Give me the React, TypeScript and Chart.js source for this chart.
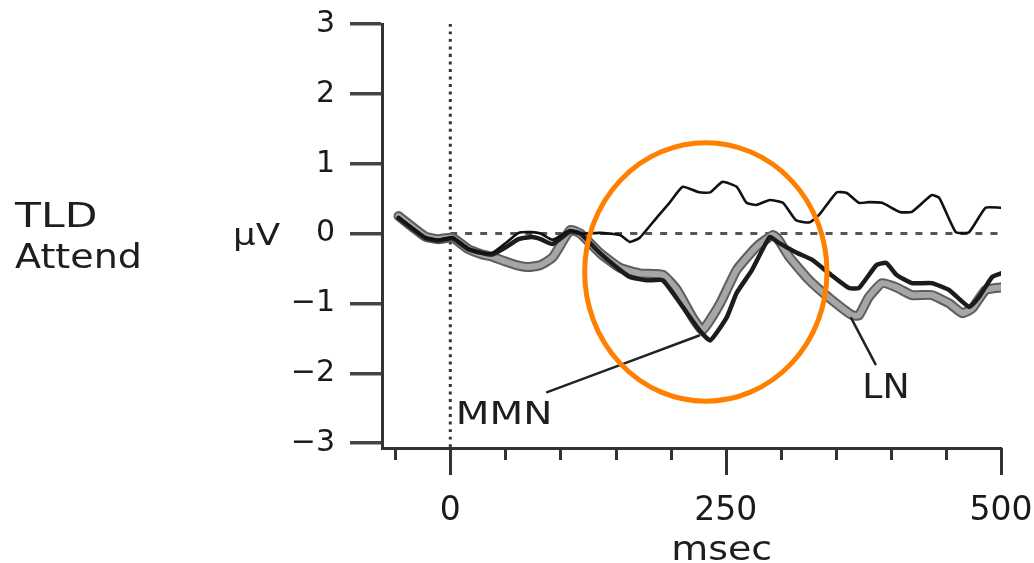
import React, { useEffect, useRef } from "react";
import { Chart, registerables } from "chart.js";

Chart.register(...registerables);

// ---- axis ticks ----
const yTicks = [-3, -2, -1, 0, 1, 2, 3];
const xTicks = [-50, 0, 50, 100, 150, 200, 250, 300, 350, 400, 450, 500];
const xMajor = [0, 250, 500];

// ---- series (msec, µV) ----
const thinX = [-47, -23, -11, 2, 16, 29, 38, 50, 62, 74, 82, 93, 109, 118, 136, 154, 163, 172, 188, 199, 211, 226, 236, 247, 260, 269, 278, 290, 302, 314, 326, 335, 351, 360, 371, 380, 392, 408, 419, 437, 444, 459, 471, 486, 500];
const thinY = [0.24, -0.05, -0.09, -0.05, -0.21, -0.27, -0.28, -0.14, 0.01, 0.02, 0.0, -0.09, 0.05, 0.0, 0.01, -0.02, -0.12, -0.06, 0.24, 0.44, 0.67, 0.59, 0.59, 0.74, 0.67, 0.44, 0.41, 0.48, 0.44, 0.19, 0.16, 0.27, 0.59, 0.58, 0.44, 0.45, 0.44, 0.31, 0.31, 0.55, 0.51, 0.02, 0.02, 0.37, 0.37];

const blackX = [-47, -23, -11, 2, 16, 29, 38, 50, 62, 74, 82, 93, 109, 118, 136, 154, 163, 178, 193, 211, 226, 236, 251, 260, 274, 290, 298, 314, 329, 344, 362, 371, 387, 396, 405, 419, 437, 453, 471, 480, 492, 500];
const blackY = [0.22, -0.06, -0.1, -0.07, -0.22, -0.28, -0.3, -0.2, -0.08, -0.05, -0.08, -0.15, 0.03, 0.0, -0.28, -0.52, -0.62, -0.67, -0.67, -1.05, -1.38, -1.53, -1.2, -0.85, -0.52, -0.05, -0.13, -0.27, -0.38, -0.57, -0.78, -0.78, -0.45, -0.42, -0.59, -0.71, -0.71, -0.81, -1.05, -0.91, -0.62, -0.57];

const grayX = [-47, -23, -11, 2, 16, 29, 38, 50, 62, 71, 82, 93, 109, 118, 136, 154, 172, 193, 206, 220, 229, 245, 260, 278, 293, 298, 308, 326, 344, 365, 371, 380, 392, 405, 419, 437, 453, 465, 474, 486, 500];
const grayY = [0.25, -0.04, -0.08, -0.06, -0.22, -0.3, -0.33, -0.4, -0.46, -0.48, -0.45, -0.34, 0.05, 0.0, -0.28, -0.49, -0.57, -0.59, -0.81, -1.2, -1.38, -1.0, -0.52, -0.19, -0.02, -0.09, -0.34, -0.67, -0.92, -1.17, -1.17, -0.91, -0.71, -0.77, -0.88, -0.88, -1.0, -1.14, -1.07, -0.81, -0.77];

// ---- reference lines and pointers ----
const zeroLineX = [0, 500];
const zeroLineY = [0, 0];
const onsetX = [0, 0];
const onsetY = [3, -3.07];
const mmnPointerX = [88, 226];
const mmnPointerY = [-2.27, -1.46];
const lnPointerX = [364, 386];
const lnPointerY = [-1.21, -1.87];

// ---- annotation anchors (data units) ----
const circleCenter = { x: 232, y: -0.55 };
const circleRadius = { x: 110, y: 1.85 };
const mmnLabel = { text: "MMN", x: 5, y: -2.72 };
const lnLabel = { text: "LN", x: 374, y: -2.35 };

const FONT = "'DejaVu Sans', 'Liberation Sans', sans-serif";

const pts = (xs: number[], ys: number[]) => xs.map((x, i) => ({ x, y: ys[i] }));

const decorPlugin = {
  id: "decor",
  afterDraw(chart: any) {
    const { ctx, chartArea } = chart;
    const xs = chart.scales.x;
    const ys = chart.scales.y;
    ctx.save();
    // x tick marks
    ctx.strokeStyle = "#333";
    ctx.lineWidth = 3;
    for (const v of xTicks) {
      const px = Math.round(xs.getPixelForValue(v)) + 0.5;
      const len = xMajor.includes(v) ? 27 : 12;
      ctx.beginPath();
      ctx.moveTo(px, chartArea.bottom);
      ctx.lineTo(px, chartArea.bottom + len);
      ctx.stroke();
    }
    // orange circle
    const cx = xs.getPixelForValue(circleCenter.x);
    const cy = ys.getPixelForValue(circleCenter.y);
    const rx = xs.getPixelForValue(circleCenter.x + circleRadius.x) - cx;
    const ry = ys.getPixelForValue(circleCenter.y - circleRadius.y) - cy;
    ctx.strokeStyle = "#ff7f00";
    ctx.lineWidth = 5;
    ctx.beginPath();
    ctx.ellipse(cx, cy, rx, ry, 0, 0, Math.PI * 2);
    ctx.stroke();

    const text = (t: string, x: number, y: number, size: number, sx: number, align = "left") => {
      ctx.save();
      ctx.font = `${size}px ${FONT}`;
      ctx.fillStyle = "#1e1e1e";
      ctx.textBaseline = "alphabetic";
      ctx.textAlign = align;
      ctx.translate(x, y);
      ctx.scale(sx, 1);
      ctx.fillText(t, 0, 0);
      ctx.restore();
    };
    text(mmnLabel.text, xs.getPixelForValue(mmnLabel.x), ys.getPixelForValue(mmnLabel.y), 32, 1.22);
    text(lnLabel.text, xs.getPixelForValue(lnLabel.x), ys.getPixelForValue(lnLabel.y), 33, 1.1);
    text("msec", xs.getPixelForValue(250) - 4, 560, 33, 1.15, "center");
    text("TLD", 15, 227, 34, 1.25);
    text("Attend", 15, 268, 34, 1.12);
    text("\u00b5V", 233, 245, 31, 1.15);
    ctx.restore();
  },
};

export default function App() {
  const ref = useRef<HTMLCanvasElement | null>(null);
  useEffect(() => {
    if (!ref.current) return;
    const line = (data: any, color: string, width: number, dash: number[] = []) => ({
      data,
      borderColor: color,
      borderWidth: width,
      borderDash: dash,
      pointRadius: 0,
      tension: 0.15,
      fill: false,
      borderCapStyle: dash.length ? "butt" : "round",
      borderJoinStyle: "round",
    });
    const chart = new Chart(ref.current, {
      type: "line",
      data: {
        datasets: [
          line(pts(mmnPointerX, mmnPointerY), "#222", 2.5),
          line(pts(lnPointerX, lnPointerY), "#222", 2.5),
          line(pts(thinX, thinY), "#111", 2.6),
          line(pts(blackX, blackY), "#1c1c1c", 4.5),
          line(pts(grayX, grayY), "#a6a6a6", 6),
          line(pts(grayX, grayY), "#5e5e5e", 10),
          line(pts(zeroLineX, zeroLineY), "#555", 3, [7, 8]),
          line(pts(onsetX, onsetY), "#333", 3, [3, 4.5]),
        ] as any,
      },
      options: {
        responsive: false,
        animation: false,
        events: [],
        layout: { padding: { top: 24, right: 33, bottom: 0, left: 0 } },
        plugins: { legend: { display: false }, tooltip: { enabled: false } },
        scales: {
          x: {
            type: "linear",
            min: -62,
            max: 500,
            afterBuildTicks: (s: any) => {
              s.ticks = xTicks.map((v) => ({ value: v }));
            },
            afterFit: (s: any) => {
              s.height = 115;
              s.paddingLeft = 0;
              s.paddingRight = 0;
            },
            grid: { display: false, drawTicks: false },
            border: { display: true, color: "#333", width: 3 },
            ticks: {
              autoSkip: false,
              maxRotation: 0,
              padding: 44,
              color: "#1a1a1a",
              font: { family: FONT, size: 33 },
              callback: (v: any) => (xMajor.includes(Number(v)) ? String(v) : ""),
            },
          },
          y: {
            type: "linear",
            min: -3.07,
            max: 3,
            afterBuildTicks: (s: any) => {
              s.ticks = yTicks.map((v) => ({ value: v }));
            },
            afterFit: (s: any) => {
              s.width = 382;
              s.paddingTop = 0;
              s.paddingBottom = 0;
            },
            grid: {
              display: true,
              drawOnChartArea: false,
              drawTicks: true,
              tickLength: 32,
              lineWidth: 3.5,
              color: "#444",
            },
            border: { display: true, color: "#333", width: 3 },
            ticks: {
              padding: 15,
              color: "#1a1a1a",
              font: { family: FONT, size: 30 },
              callback: (v: any) => (Number(v) < 0 ? "\u2212" + Math.abs(Number(v)) : String(v)),
            },
          },
        },
      },
      plugins: [decorPlugin],
    } as any);
    return () => chart.destroy();
  }, []);
  return (
    <div style={{ position: "fixed", left: 0, top: 0, width: 1034, height: 563, background: "#fff" }}>
      <canvas ref={ref} width={1034} height={563} style={{ display: "block" }} />
    </div>
  );
}
